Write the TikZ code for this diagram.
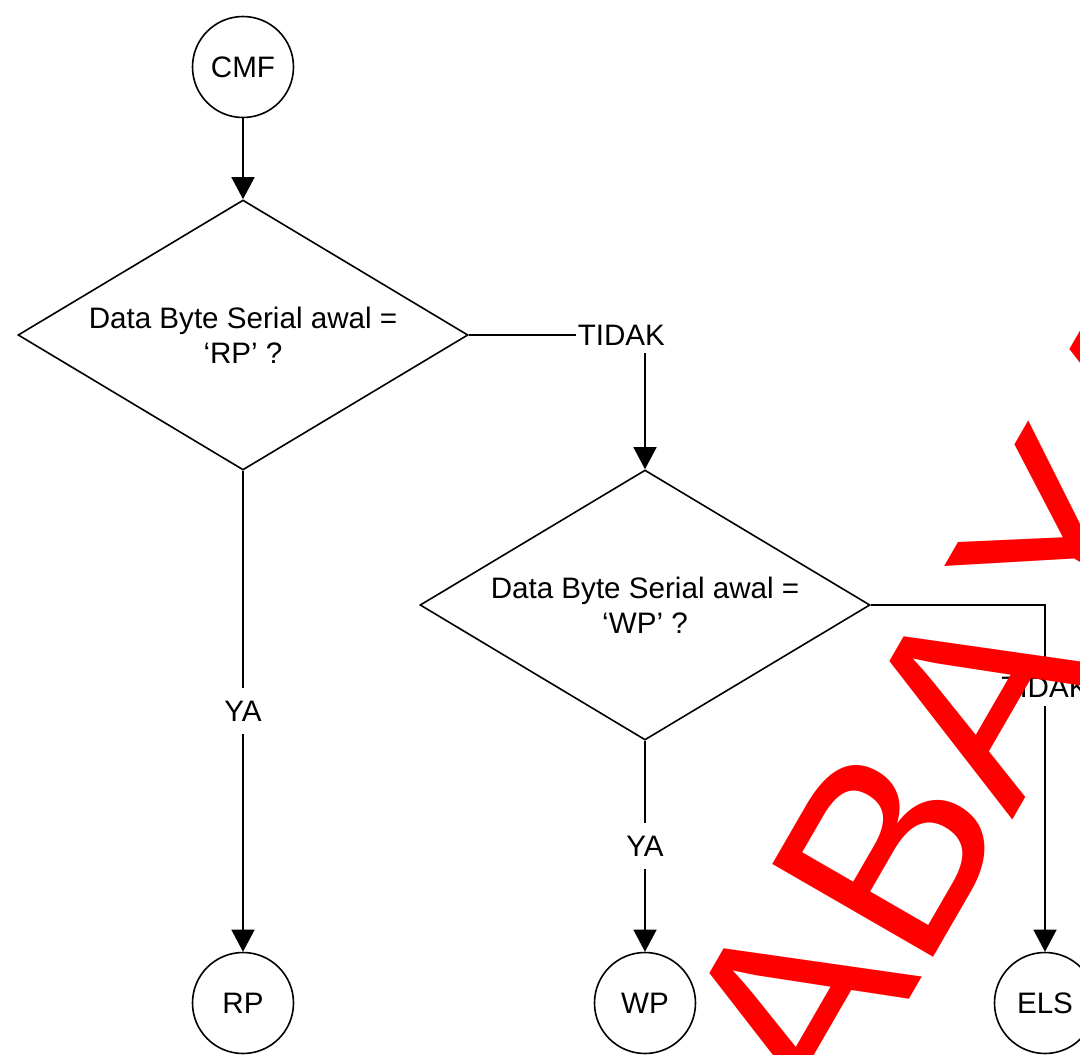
\documentclass[tikz,border=0pt]{standalone}
\usepackage{fontspec}
\setmainfont{Liberation Sans}
\newfontfamily\wmfont[Kerning=Off]{Liberation Sans}
\usetikzlibrary{shapes.geometric,arrows.meta}
\begin{document}
\begin{tikzpicture}[x=1pt,y=-1pt,
  line width=1.6pt,
  every node/.style={font=\fontsize{29.6}{35}\selectfont},
  term/.style={draw,circle,minimum size=101pt,inner sep=0pt},
  decision/.style={draw,diamond,aspect=1.667,minimum width=450pt,minimum height=270pt,inner sep=0pt,align=center},
  flow/.style={-{Triangle[width=23pt,length=22pt]}},
  lbl/.style={fill=white,inner xsep=2pt,inner ysep=8pt},
  ylbl/.style={fill=white,inner xsep=2pt,inner ysep=13pt},
  wmark/.style={text=red,font=\wmfont\fontsize{270}{270}\selectfont,inner sep=0pt,rotate=60,anchor=base west}
]
\clip (0,0) rectangle (1080,1055);
\fill[white] (0,0) rectangle (1080,1055);

% terminators and decisions
\node[term] (cmf) at (243,67) {CMF};
\node[decision] (d1) at (243,335) {Data Byte Serial awal =\\‘RP’ ?};
\node[decision] (d2) at (645,605) {Data Byte Serial awal =\\‘WP’ ?};
\node[term] (rp) at (243,1003) {RP};
\node[term] (wp) at (645,1003) {WP};
\node[term] (els) at (1045,1003) {ELS};

% connectors
\draw[flow] (cmf) -- (d1);
\draw[flow] (d1.east) -| node[lbl,pos=0.433] {TIDAK} (d2.north);
\draw[flow] (d1.south) -- node[ylbl] {YA} (rp);
\draw[flow] (d2.south) -- node[ylbl] {YA} (wp);
\draw[flow] (d2.east) -| node[lbl,pos=0.619] {TIDAK} (els.north);

% watermark
\node[wmark] (wm) at (547,1627) {SURABAYA};
\end{tikzpicture}
\end{document}
